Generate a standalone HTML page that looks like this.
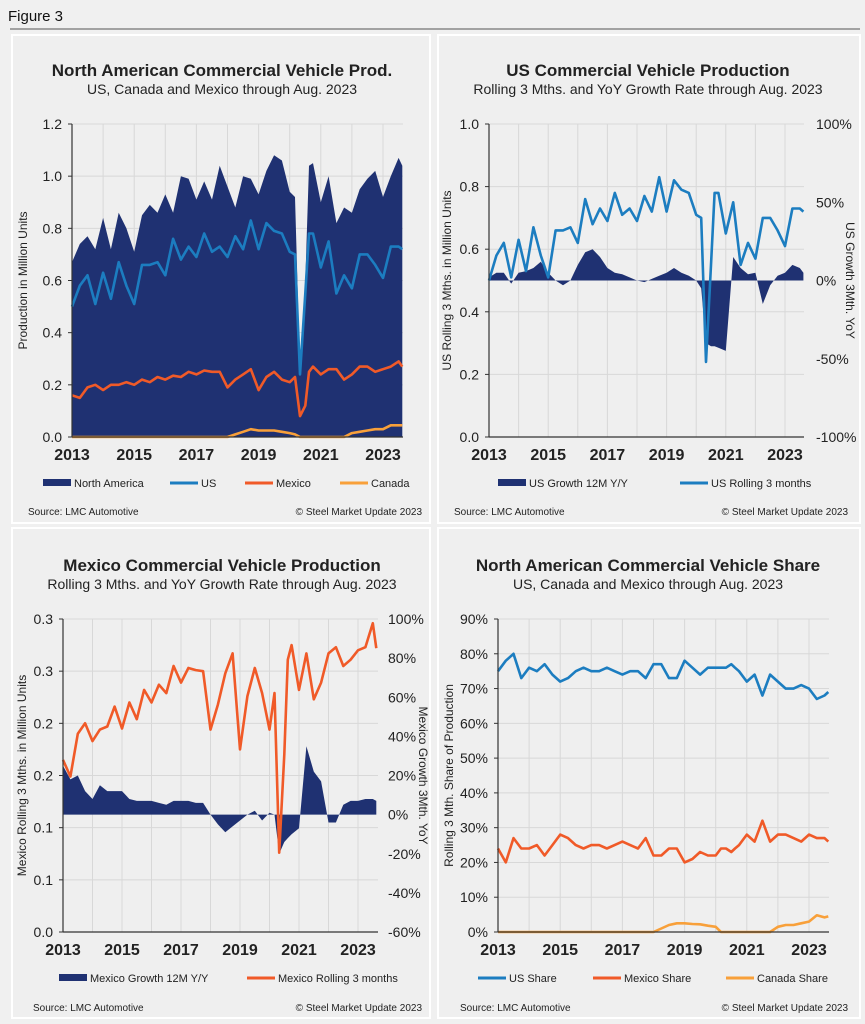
<!DOCTYPE html>
<html><head><meta charset="utf-8">
<style>
html,body{margin:0;padding:0;background:#f0f0f0;}
svg{display:block;font-family:"Liberation Sans",Arial,sans-serif;}
</style></head>
<body>
<svg id="fig" width="865" height="1024" viewBox="0 0 865 1024" xmlns="http://www.w3.org/2000/svg">
<rect x="0" y="0" width="865" height="1024" fill="#f0f0f0"/>
<text x="8" y="21" font-size="15" fill="#111">Figure 3</text>
<line x1="10" y1="29" x2="860" y2="29" stroke="#888" stroke-width="1.5"/>
<rect x="12" y="35" width="418" height="488" fill="#efefef" stroke="#fff" stroke-width="2"/>
<rect x="438" y="35" width="422" height="488" fill="#efefef" stroke="#fff" stroke-width="2"/>
<rect x="12" y="528" width="418" height="490" fill="#efefef" stroke="#fff" stroke-width="2"/>
<rect x="438" y="528" width="422" height="490" fill="#efefef" stroke="#fff" stroke-width="2"/>
</svg>
<script>
const dates=[2013,2013.25,2013.5,2013.75,2014,2014.25,2014.5,2014.75,2015,2015.25,2015.5,2015.75,2016,2016.25,2016.5,2016.75,2017,2017.25,2017.5,2017.75,2018,2018.25,2018.5,2018.75,2019,2019.25,2019.5,2019.75,2020,2020.17,2020.33,2020.5,2020.62,2020.75,2021,2021.25,2021.5,2021.75,2022,2022.25,2022.5,2022.75,2023,2023.25,2023.5,2023.62];
const naProd=[0.67,0.74,0.77,0.72,0.84,0.72,0.86,0.80,0.71,0.85,0.89,0.86,0.93,0.86,1.0,0.99,0.91,0.98,0.91,1.04,0.96,0.88,1.0,0.99,0.93,1.02,1.08,1.06,0.94,0.92,0.25,0.6,1.04,1.05,0.90,1.0,0.82,0.88,0.86,0.95,0.99,1.02,0.92,1.0,1.07,1.04];
const usProd=[0.50,0.58,0.62,0.51,0.63,0.53,0.67,0.58,0.51,0.66,0.66,0.67,0.62,0.76,0.68,0.73,0.69,0.78,0.71,0.73,0.69,0.77,0.72,0.83,0.72,0.82,0.79,0.78,0.71,0.70,0.24,0.55,0.78,0.78,0.65,0.75,0.55,0.62,0.57,0.70,0.70,0.66,0.61,0.73,0.73,0.72];
const mxProd=[0.16,0.15,0.19,0.20,0.18,0.20,0.20,0.21,0.20,0.22,0.21,0.23,0.22,0.235,0.23,0.25,0.24,0.255,0.25,0.25,0.19,0.22,0.24,0.26,0.18,0.23,0.25,0.22,0.21,0.23,0.08,0.12,0.25,0.27,0.24,0.26,0.26,0.22,0.24,0.27,0.27,0.25,0.26,0.27,0.29,0.27];
const caProd=[0,0,0,0,0,0,0,0,0,0,0,0,0,0,0,0,0,0,0,0,0,0.01,0.02,0.03,0.025,0.025,0.025,0.02,0.015,0.01,0,0,0,0,0,0,0,0,0.015,0.02,0.025,0.03,0.03,0.045,0.045,0.045];
const usGrowth=[2,5,5,-2,5,6,8,12,5,0,-3,0,10,18,20,15,8,5,4,2,0,-1,1,3,5,8,5,3,0,-5,-40,-42,-42,-43,-45,15,8,4,5,-15,-3,3,5,10,8,5];
const mxRolling=[0.165,0.149,0.19,0.20,0.183,0.194,0.197,0.216,0.195,0.22,0.204,0.232,0.22,0.237,0.229,0.255,0.239,0.253,0.251,0.25,0.194,0.218,0.248,0.267,0.175,0.226,0.253,0.229,0.194,0.229,0.076,0.17,0.261,0.275,0.232,0.267,0.223,0.239,0.267,0.273,0.255,0.261,0.27,0.273,0.296,0.272];
const mxGrowth=[25,18,20,12,8,15,12,12,12,8,7,7,7,6,5,7,7,7,6,6,0,-5,-9,-6,-3,0,2,-3,1,0,-20,-14,-12,-10,-7,35,22,17,-4,-4,5,7,7,8,8,7];
const usShare=[75,78,80,73,76,75,77,74,72,73,75,76,75,75,76,75,74,75,75,73,77,77,73,73,78,76,74,76,76,76,76,77,76,75,72,74,68,74,72,70,70,71,70,67,68,69];
const mxShare=[24,20,27,24,24,25,22,25,28,27,25,24,25,25,24,25,26,25,24,27,22,22,24,24,20,21,23,22,22,24,24,23,24,25,28,26,32,26,28,28,27,26,28,27,27,26];
const caShare=[0,0,0,0,0,0,0,0,0,0,0,0,0,0,0,0,0,0,0,0,0,1,2,2.5,2.5,2.3,2.2,1.8,1.5,0,0,0,0,0,0,0,0,0,1.5,2,2,2.5,3,4.8,4.2,4.5];
const yearTicks=[2013,2015,2017,2019,2021,2023];
const ticks1=["0.0","0.2","0.4","0.6","0.8","1.0","1.2"];
const ticks2=["0.0","0.2","0.4","0.6","0.8","1.0"];
const ticks2r=["-100%","-50%","0%","50%","100%"];
const ticks3=["0.0","0.1","0.1","0.2","0.2","0.3","0.3"];
const ticks3r=["-60%","-40%","-20%","0%","20%","40%","60%","80%","100%"];
const ticks4=["0%","10%","20%","30%","40%","50%","60%","70%","80%","90%"];

const NS="http://www.w3.org/2000/svg";
const svg=document.getElementById('fig');
function mk(tag,attrs,parent){const e=document.createElementNS(NS,tag);for(const k in attrs)e.setAttribute(k,attrs[k]);(parent||svg).appendChild(e);return e;}
function txt(s,x,y,size,anchor,weight,parent){const t=mk('text',{x:x,y:y,'font-size':size,'text-anchor':anchor||'start','font-weight':weight||'normal',fill:'#222'},parent);t.textContent=s;return t;}

function chart(c){
  const g=mk('g',{});
  
  
  const xs=yr=>c.x0+(yr-2013)*c.pxYear;
  const ys=v=>c.yb-(v-c.lmin)/(c.lmax-c.lmin)*(c.yb-c.yt);
  const yr=v=>c.yb-(v-c.rmin)/(c.rmax-c.rmin)*(c.yb-c.yt);
  // grid
  for(let y=2014;y<=2023;y++){const l=mk('line',{x1:xs(y),x2:xs(y),y1:c.yt,y2:c.yb,stroke:'#d8d8d8','stroke-width':1},g);}
  const n=c.lticks.length;
  for(let i=0;i<n;i++){
    const y=c.yb-i*(c.yb-c.yt)/(n-1);
    if(i>0){const l=mk('line',{x1:c.x0,x2:c.xr,y1:y,y2:y,stroke:'#d8d8d8','stroke-width':1},g);}
    const t=txt(c.lticks[i],c.x0-10,y+5,14,'end','normal',g);
    
    mk('line',{x1:c.x0-4,x2:c.x0,y1:y,y2:y,stroke:'#333'},g);
  }
  if(c.rticks){const m=c.rticks.length;for(let i=0;i<m;i++){const y=c.yb-i*(c.yb-c.yt)/(m-1);const t=txt(c.rticks[i],c.rx,y+5,14,'start','normal',g);}}
  // series
  c.series.forEach(s=>{
    const sc=s.right?yr:ys;
    let d='';
    s.vals.forEach((v,i)=>{d+=(i?'L':'M')+xs(dates[i]).toFixed(1)+','+sc(v).toFixed(1);});
    let p;
    if(s.area){
      const base=sc(s.base||0);
      d+='L'+xs(dates[dates.length-1]).toFixed(1)+','+base+'L'+xs(dates[0])+','+base+'Z';
      p=mk('path',{d:d,fill:s.color,stroke:'none'},g);
    }else{
      p=mk('path',{d:d,fill:'none',stroke:s.color,'stroke-width':2.6,'stroke-linejoin':'round'},g);
    }
    
    
  });
  // axes
  const ax=mk('line',{x1:c.x0,x2:c.x0,y1:c.yt,y2:c.yb,stroke:'#333','stroke-width':1.2},g);
  
  const bx=mk('line',{x1:c.x0,x2:c.xr,y1:c.yb,y2:c.yb,stroke:'#333','stroke-width':1.2},g);
  
  yearTicks.forEach(y=>{const t=txt(String(y),xs(y),c.yb+23,16,'middle','bold',g);});
  // titles
  const t1=txt(c.title,c.cx,c.ty,17,'middle','bold',g);
  const t2=txt(c.sub,c.cx,c.ty+18,14,'middle','normal',g);
  const ym=(c.yt+c.yb)/2;
  const at=txt(c.ytitle,0,0,12,'middle','normal',g);at.setAttribute('transform','translate('+c.ytx+','+ym+') rotate(-90)');
  
  if(c.y2title){const a2=txt(c.y2title,0,0,12,'middle','normal',g);a2.setAttribute('transform','translate('+c.y2tx+','+ym+') rotate(90)');}
  // legend
  c.legend.forEach(l=>{
    const r=mk('rect',{x:l.x,y:c.ly-(l.area?4:1.5),width:28,height:l.area?7:3,fill:l.color},g);
    
    const t=txt(l.label,l.x+31,c.ly+4,11,'start','normal',g);
    
  });
  const s1=txt('Source: LMC Automotive',c.sx,c.sy,10,'start','normal',g);
  const s2=txt('© Steel Market Update 2023',c.sr,c.sy,10,'end','normal',g);
}
const NAVY='#1f3172',BLUE='#1c7dc0',ORANGE='#f05a28',GOLD='#f8a03a';
chart({name:'chart-na-production',x0:72,xr:403,pxYear:31.1,yt:124,yb:437,lmin:0,lmax:1.2,lticks:ticks1,
  cx:222,ty:76,title:'North American Commercial Vehicle Prod.',sub:'US, Canada and Mexico through Aug. 2023',
  ytitle:'Production in Million Units',ytx:27,
  series:[{id:'area-north-america',vals:naProd,area:true,color:NAVY},{id:'line-us',vals:usProd,color:BLUE},{id:'line-mexico',vals:mxProd,color:ORANGE},{id:'line-canada',vals:caProd,color:GOLD}],
  ly:483,legend:[{x:43,label:'North America',color:NAVY,area:true},{x:170,label:'US',color:BLUE},{x:245,label:'Mexico',color:ORANGE},{x:340,label:'Canada',color:GOLD}],
  sx:28,sr:422,sy:515});
chart({name:'chart-us-production',x0:489,xr:804,pxYear:29.6,yt:124,yb:437,lmin:0,lmax:1.0,lticks:ticks2,rmin:-100,rmax:100,rticks:ticks2r,rx:816,
  cx:648,ty:76,title:'US Commercial Vehicle Production',sub:'Rolling 3 Mths. and YoY Growth Rate through Aug. 2023',
  ytitle:'US Rolling 3 Mths. in Million Units',ytx:451,y2title:'US Growth 3Mth. YoY',y2tx:846,
  series:[{id:'area-us-growth',vals:usGrowth,area:true,right:true,color:NAVY},{id:'line-us-rolling',vals:usProd,color:BLUE}],
  ly:483,legend:[{x:498,label:'US Growth 12M Y/Y',color:NAVY,area:true},{x:680,label:'US Rolling 3 months',color:BLUE}],
  sx:454,sr:848,sy:515});
chart({name:'chart-mexico-production',x0:63,xr:378,pxYear:29.5,yt:619,yb:932,lmin:0,lmax:0.3,lticks:ticks3,rmin:-60,rmax:100,rticks:ticks3r,rx:388,
  cx:222,ty:571,title:'Mexico Commercial Vehicle Production',sub:'Rolling 3 Mths. and YoY Growth Rate through Aug. 2023',
  ytitle:'Mexico Rolling 3 Mths. in Million Units',ytx:26,y2title:'Mexico Growth 3Mth. YoY',y2tx:419,
  series:[{id:'area-mexico-growth',vals:mxGrowth,area:true,right:true,color:NAVY},{id:'line-mexico-rolling',vals:mxRolling,color:ORANGE}],
  ly:978,legend:[{x:59,label:'Mexico Growth 12M Y/Y',color:NAVY,area:true},{x:247,label:'Mexico Rolling 3 months',color:ORANGE}],
  sx:33,sr:422,sy:1011});
chart({name:'chart-na-share',x0:498,xr:829,pxYear:31.1,yt:619,yb:932,lmin:0,lmax:90,lticks:ticks4,
  cx:648,ty:571,title:'North American Commercial Vehicle Share',sub:'US, Canada and Mexico through Aug. 2023',
  ytitle:'Rolling 3 Mth. Share of Production',ytx:453,
  series:[{id:'line-us-share',vals:usShare,color:BLUE},{id:'line-mexico-share',vals:mxShare,color:ORANGE},{id:'line-canada-share',vals:caShare,color:GOLD}],
  ly:978,legend:[{x:478,label:'US Share',color:BLUE},{x:593,label:'Mexico Share',color:ORANGE},{x:726,label:'Canada Share',color:GOLD}],
  sx:460,sr:848,sy:1011});
</script>
</body></html>
